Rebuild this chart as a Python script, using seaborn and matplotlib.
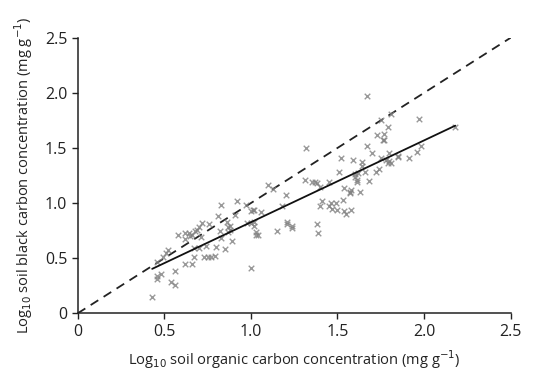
import numpy as np
import pandas as pd
import matplotlib
matplotlib.use("Agg")
import matplotlib.pyplot as plt
import seaborn as sns

# log10 soil organic carbon (x) and log10 soil black carbon (y)
soc = [0.43, 0.46, 0.46, 0.48, 0.46, 0.49, 0.51, 0.52, 0.54, 0.56, 0.56, 0.58,
       0.62, 0.62, 0.62, 0.65, 0.66, 0.67, 0.67, 0.68, 0.69, 0.70, 0.71, 0.72,
       0.70, 0.73, 0.74, 0.75, 0.76, 0.77, 0.79, 0.80, 0.81, 0.82, 0.83, 0.83,
       0.85, 0.86, 0.87, 0.88, 0.88, 0.87, 0.89, 0.91, 0.92, 0.97, 0.98, 1.00,
       1.00, 1.01, 1.02, 1.02, 1.02, 1.03, 1.00, 1.03, 1.04, 1.06, 1.10, 1.13,
       1.15, 1.18, 1.20, 1.21, 1.21, 1.24, 1.24, 1.32, 1.31, 1.35, 1.37, 1.38,
       1.40, 1.38, 1.39, 1.40, 1.41, 1.45, 1.45, 1.46, 1.47, 1.49, 1.50, 1.51,
       1.52, 1.53, 1.54, 1.54, 1.55, 1.57, 1.57, 1.58, 1.58, 1.59, 1.60, 1.60,
       1.61, 1.61, 1.62, 1.63, 1.64, 1.64, 1.66, 1.67, 1.67, 1.68, 1.70, 1.72,
       1.73, 1.74, 1.75, 1.75, 1.76, 1.77, 1.77, 1.78, 1.79, 1.79, 1.80, 1.80,
       1.81, 1.81, 1.85, 1.85, 1.91, 1.96, 1.97, 1.98, 2.18, 0.66, 0.64]
bc = [0.15, 0.31, 0.34, 0.36, 0.47, 0.51, 0.55, 0.57, 0.28, 0.26, 0.38, 0.71,
      0.45, 0.67, 0.73, 0.70, 0.45, 0.51, 0.59, 0.75, 0.76, 0.78, 0.69, 0.82,
      0.59, 0.51, 0.61, 0.51, 0.81, 0.51, 0.52, 0.60, 0.88, 0.75, 0.68, 0.98,
      0.58, 0.83, 0.78, 0.79, 0.76, 0.74, 0.66, 0.89, 1.02, 0.98, 0.82, 0.93,
      0.82, 0.94, 0.83, 0.79, 0.94, 0.74, 0.41, 0.71, 0.71, 0.92, 1.16, 1.13,
      0.75, 0.97, 1.07, 0.83, 0.81, 0.77, 0.79, 1.50, 1.21, 1.19, 1.19, 1.18,
      1.15, 0.81, 0.73, 0.97, 1.02, 1.19, 0.97, 1.00, 0.95, 1.00, 0.94, 1.28,
      1.41, 1.03, 1.14, 0.93, 0.90, 1.10, 1.09, 0.94, 1.12, 1.39, 1.24, 1.26,
      1.21, 1.19, 1.27, 1.10, 1.37, 1.34, 1.28, 1.52, 1.97, 1.20, 1.45, 1.28,
      1.62, 1.31, 1.41, 1.75, 1.57, 1.57, 1.63, 1.39, 1.69, 1.36, 1.45, 1.38,
      1.81, 1.36, 1.43, 1.42, 1.41, 1.46, 1.76, 1.52, 1.69, 0.71, 0.73]

ticks = [0, 0.5, 1.0, 1.5, 2.0, 2.5]
tick_labels = ["0", "0.5", "1.0", "1.5", "2.0", "2.5"]

df = pd.DataFrame({"soc": soc, "bc": bc})

sns.set_style("ticks")
plt.rcParams["font.family"] = ["Open Sans", "DejaVu Sans"]

fig = plt.figure(figsize=(5.37, 3.70), dpi=100)
ax = fig.add_axes([0.1447, 0.1532, 0.8063, 0.7449])

# 1:1 line
ax.plot([0, 2.5], [0, 2.5], color="#222222", lw=1.3, ls=(0, (5, 3.5)), zorder=1)

sns.regplot(data=df, x="soc", y="bc", ax=ax, ci=None, marker="x",
            scatter_kws={"color": "#808080", "s": 16, "linewidths": 1.0, "zorder": 2},
            line_kws={"color": "#111111", "lw": 1.3, "zorder": 3})

ax.set_xlim(0, 2.5)
ax.set_ylim(0, 2.5)
ax.set_xticks(ticks)
ax.set_xticklabels(tick_labels)
ax.set_yticks(ticks)
ax.set_yticklabels(tick_labels)
ax.tick_params(direction="out", length=4, width=1, labelsize=11.5, colors="#222222")
for s in ["left", "bottom"]:
    ax.spines[s].set_linewidth(1.1)
    ax.spines[s].set_color("#222222")
sns.despine(ax=ax)

ax.set_xlabel("Log$_{10}$ soil organic carbon concentration (mg g$^{-1}$)", fontsize=10.5,
              labelpad=6, color="#222222")
ax.set_ylabel("Log$_{10}$ soil black carbon concentration (mg g$^{-1}$)", fontsize=10.5,
              labelpad=7, color="#222222")

fig.savefig("out.png", dpi=100)
